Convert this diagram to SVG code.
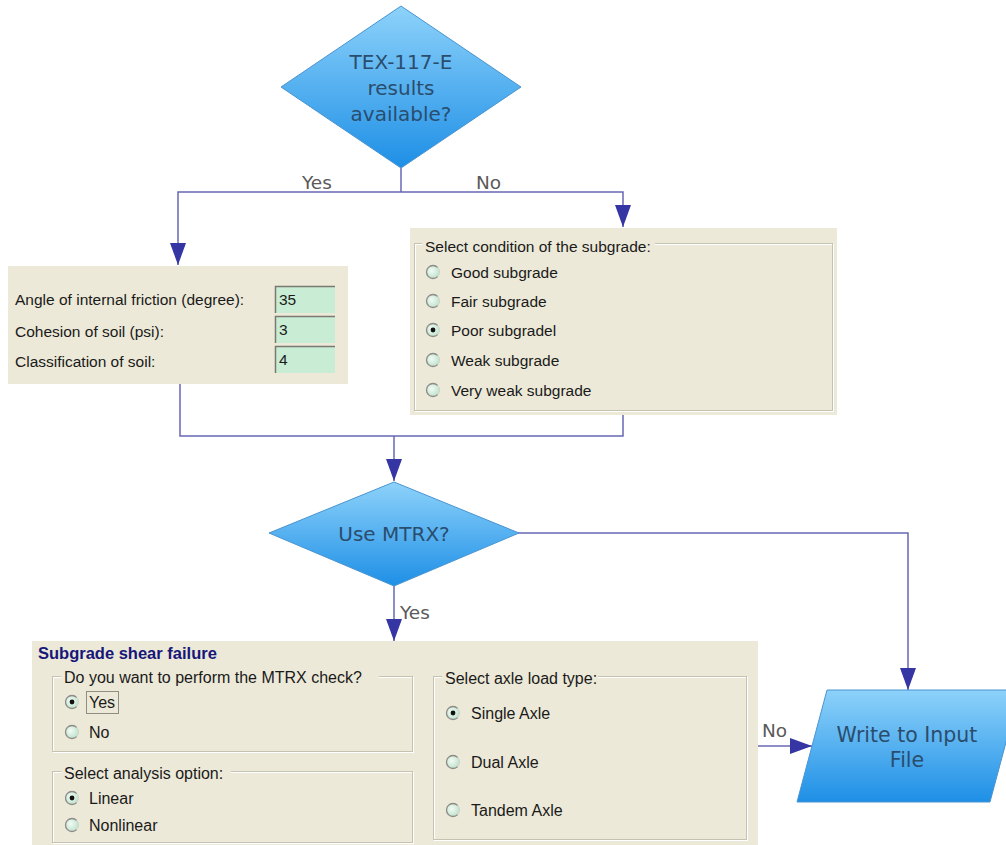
<svg xmlns="http://www.w3.org/2000/svg" xmlns:xlink="http://www.w3.org/1999/xlink" width="1006" height="845" viewBox="0 0 1006 845">
<defs>
<linearGradient id="blueGrad" x1="0" y1="0" x2="0" y2="1">
<stop offset="0" stop-color="#8dd2fa"/>
<stop offset="1" stop-color="#1e8fe6"/>
</linearGradient>
<radialGradient id="radioGrad" cx="0.4" cy="0.4" r="0.7">
<stop offset="0" stop-color="#f2fbf5"/>
<stop offset="1" stop-color="#b9dfc6"/>
</radialGradient>
<marker id="arrow" markerUnits="userSpaceOnUse" markerWidth="22" markerHeight="16" refX="22" refY="8" orient="auto">
<path d="M0,0 L22,8 L0,16 z" fill="#3535a3"/>
</marker>
<g id="radio">
<circle r="6.5" fill="url(#radioGrad)" stroke="#d0d4cc" stroke-width="1"/>
<path d="M4.6,-4.6 A6.5,6.5 0 1 0 4.6,4.6" fill="none" stroke="#8c8c88" stroke-width="1.3"/>
</g>
<g id="radioOn">
<use xlink:href="#radio"/>
<circle r="2.4" fill="#111"/>
</g>
</defs>
<style>
.ui{font-family:"Liberation Sans",Arial,sans-serif;font-size:15.5px;fill:#1a1a1a}
.ui16{font-family:"Liberation Sans",Arial,sans-serif;font-size:16px;fill:#1a1a1a}
.flow{font-family:"DejaVu Sans",Verdana,sans-serif;font-size:20px;fill:#2a4d6e;text-anchor:middle}
.lbl{font-family:"DejaVu Sans",Verdana,sans-serif;font-size:18.5px;fill:#5a5a5a}
.panel{fill:#ece9d8}
.gbox{fill:none;stroke:#c5c2b2;stroke-width:1}
.gboxhi{fill:none;stroke:#ffffff;stroke-width:1}
.tbox{fill:#c9ecd5;stroke:none}
.conn{fill:none;stroke:#6767b5;stroke-width:1.5}
.shape{stroke:#4a94d0;stroke-width:1}
</style>
<rect width="1006" height="845" fill="#ffffff"/>

<g id="connectors">
<path class="conn" d="M401,168 V192"/>
<path class="conn" d="M401,192 H178 V265" marker-end="url(#arrow)"/>
<path class="conn" d="M401,192 H623 V227" marker-end="url(#arrow)"/>
<path class="conn" d="M180,384 V436 H623 V415"/>
<path class="conn" d="M394,436 V481" marker-end="url(#arrow)"/>
<path class="conn" d="M518,533 H908 V690" marker-end="url(#arrow)"/>
<path class="conn" d="M394,586 V641" marker-end="url(#arrow)"/>
<path class="conn" d="M758,746 H812" marker-end="url(#arrow)"/>
<text class="lbl" x="302" y="189">Yes</text>
<text class="lbl" x="476" y="189">No</text>
<text class="lbl" x="400" y="619">Yes</text>
<text class="lbl" x="762" y="737">No</text>
</g>

<g id="decision-tex">
<polygon class="shape" points="401,6 521,87 401,168 281,87" fill="url(#blueGrad)"/>
<text class="flow" x="401" y="69">TEX-117-E</text>
<text class="flow" x="401" y="95">results</text>
<text class="flow" x="401" y="121">available?</text>
</g>

<g id="soil-params">
<rect class="panel" x="8" y="266" width="340" height="118"/>
<text class="ui" x="15" y="305">Angle of internal friction (degree):</text>
<text class="ui" x="15" y="337">Cohesion of soil (psi):</text>
<text class="ui" x="15" y="367">Classification of soil:</text>
<rect class="tbox" x="275" y="286" width="60" height="27"/>
<path d="M275.5,313 V286.5 H335" fill="none" stroke="#7a7a72" stroke-width="1.5"/>
<text class="ui" x="279" y="305">35</text>
<rect class="tbox" x="275" y="316" width="60" height="27"/>
<path d="M275.5,343 V316.5 H335" fill="none" stroke="#7a7a72" stroke-width="1.5"/>
<text class="ui" x="279" y="335">3</text>
<rect class="tbox" x="275" y="346" width="60" height="27"/>
<path d="M275.5,373 V346.5 H335" fill="none" stroke="#7a7a72" stroke-width="1.5"/>
<text class="ui" x="279" y="365">4</text>
</g>

<g id="subgrade-condition">
<rect class="panel" x="410" y="228" width="427" height="187"/>
<rect class="gboxhi" x="415.5" y="244.5" width="418" height="167"/>
<rect class="gbox" x="414.5" y="243.5" width="418" height="167"/>
<rect class="panel" x="422" y="238" width="233" height="16"/>
<text class="ui" x="425" y="252">Select condition of the subgrade:</text>
<use xlink:href="#radio" x="433" y="272"/>
<text class="ui" x="451" y="277.5">Good subgrade</text>
<use xlink:href="#radio" x="433" y="301"/>
<text class="ui" x="451" y="306.5">Fair subgrade</text>
<use xlink:href="#radioOn" x="433" y="330"/>
<text class="ui" x="451" y="335.5">Poor subgradel</text>
<use xlink:href="#radio" x="433" y="360"/>
<text class="ui" x="451" y="365.5">Weak subgrade</text>
<use xlink:href="#radio" x="433" y="390"/>
<text class="ui" x="451" y="395.5">Very weak subgrade</text>
</g>

<g id="decision-mtrx">
<polygon class="shape" points="394,482 519,533 394,586 269,533" fill="url(#blueGrad)"/>
<text class="flow" x="394" y="541">Use MTRX?</text>
</g>

<g id="shear-failure">
<rect class="panel" x="32" y="641" width="726" height="204"/>
<text x="38" y="659" style="font-family:'Liberation Sans',Arial,sans-serif;font-size:16.5px;font-weight:bold;fill:#17177a">Subgrade shear failure</text>
<rect class="gboxhi" x="53.5" y="677.5" width="360" height="75"/>
<rect class="gbox" x="52.5" y="676.5" width="360" height="75"/>
<rect class="panel" x="61" y="669" width="318" height="16"/>
<text class="ui16" x="64" y="683">Do you want to perform the MTRX check?</text>
<use xlink:href="#radioOn" x="72" y="702"/>
<text class="ui16" x="89" y="708">Yes</text>
<rect x="86.5" y="691.5" width="32" height="22" fill="none" stroke="#333" stroke-width="1" stroke-dasharray="1,1"/>
<use xlink:href="#radio" x="72" y="732"/>
<text class="ui16" x="89" y="738">No</text>
<rect class="gboxhi" x="53.5" y="772.5" width="360" height="71"/>
<rect class="gbox" x="52.5" y="771.5" width="360" height="71"/>
<rect class="panel" x="61" y="764" width="170" height="16"/>
<text class="ui16" x="64" y="779">Select analysis option:</text>
<use xlink:href="#radioOn" x="72" y="798"/>
<text class="ui16" x="89" y="804">Linear</text>
<use xlink:href="#radio" x="72" y="825"/>
<text class="ui16" x="89" y="831">Nonlinear</text>
<rect class="gboxhi" x="434.5" y="677.5" width="313" height="163"/>
<rect class="gbox" x="433.5" y="676.5" width="313" height="163"/>
<rect class="panel" x="442" y="669" width="156" height="16"/>
<text class="ui16" x="445" y="684">Select axle load type:</text>
<use xlink:href="#radioOn" x="453" y="713"/>
<text class="ui16" x="471" y="719">Single Axle</text>
<use xlink:href="#radio" x="453" y="762"/>
<text class="ui16" x="471" y="768">Dual Axle</text>
<use xlink:href="#radio" x="453" y="810"/>
<text class="ui16" x="471" y="816">Tandem Axle</text>
</g>

<g id="write-input">
<polygon class="shape" points="827,690 1020,690 990,802 797,802" fill="url(#blueGrad)"/>
<text class="flow" x="907" y="742" style="font-size:20.5px">Write to Input</text>
<text class="flow" x="907" y="767" style="font-size:20.5px">File</text>
</g>
</svg>
